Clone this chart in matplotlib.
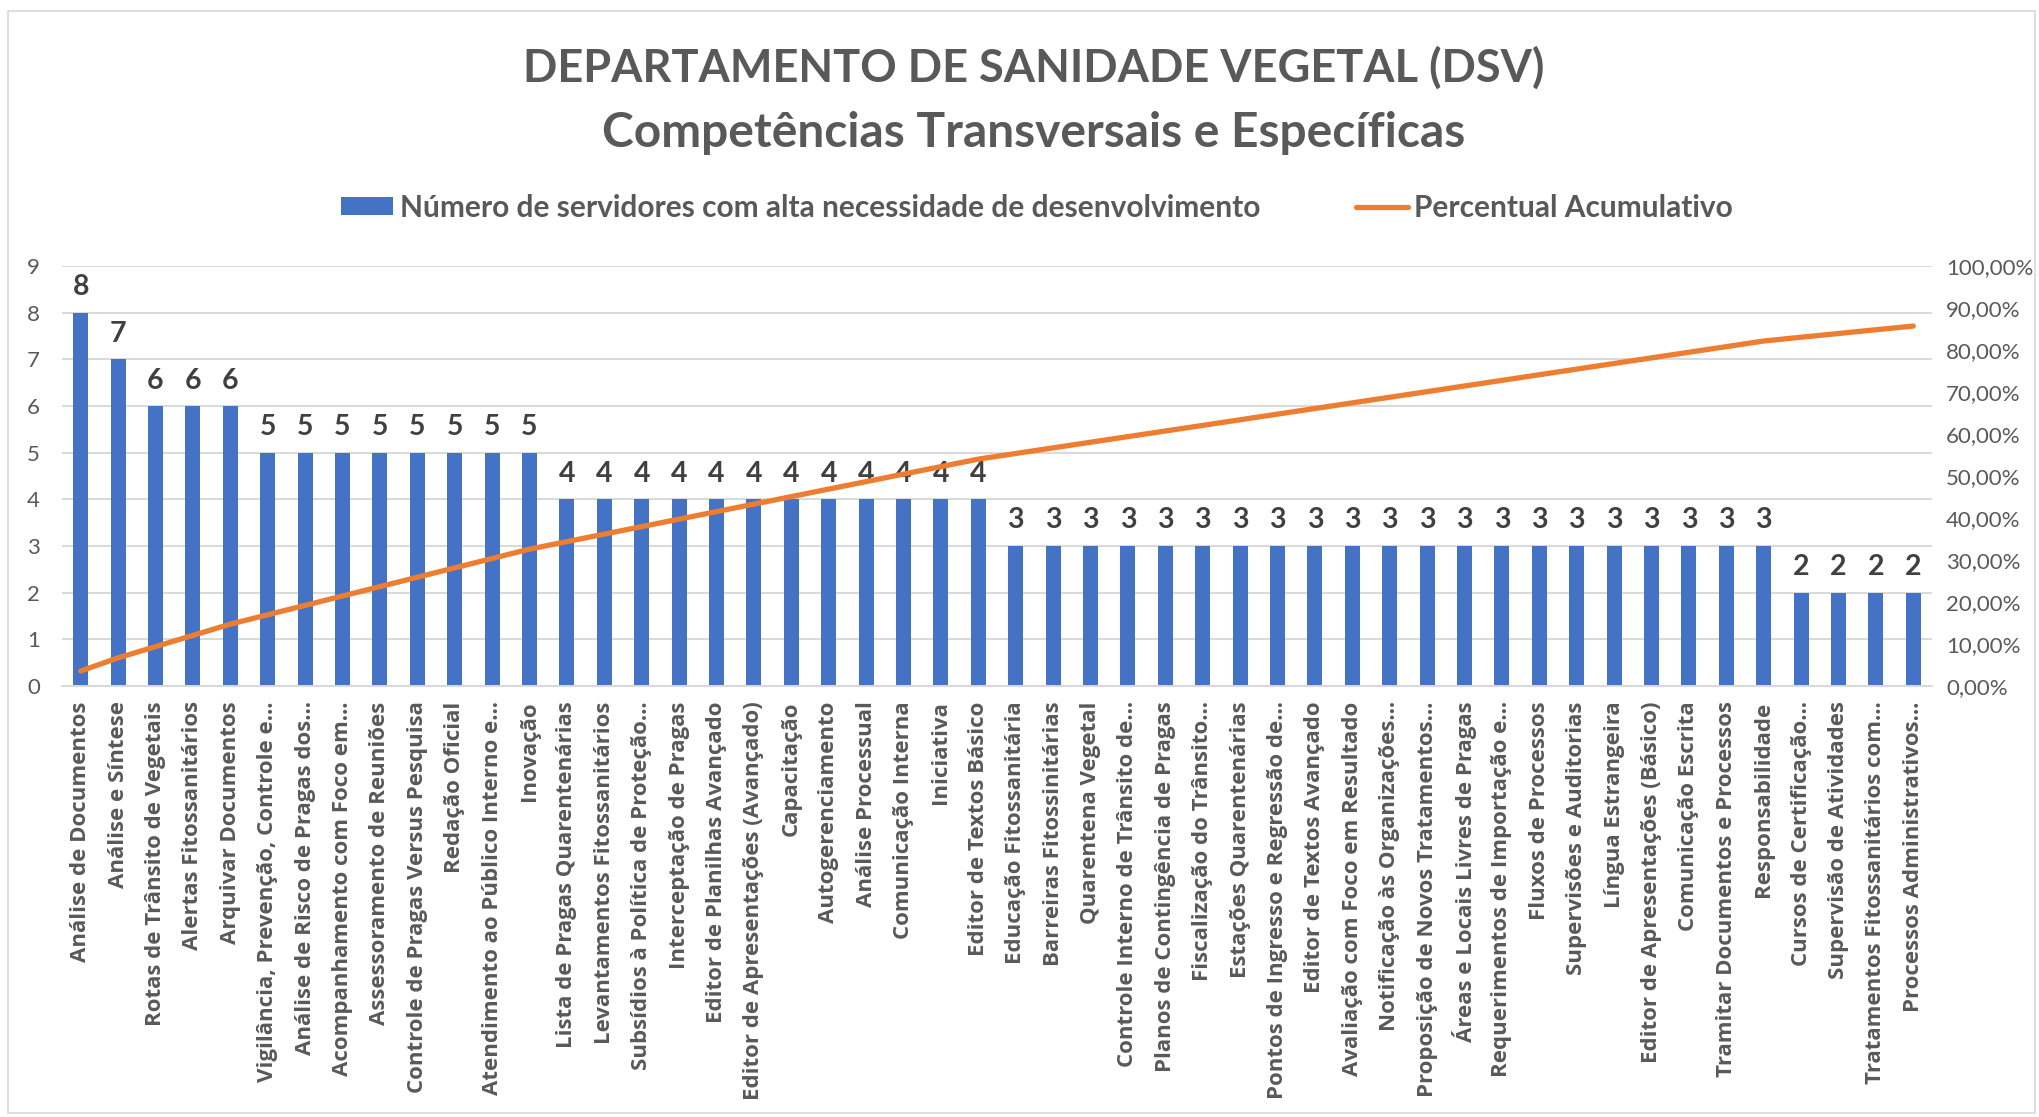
import numpy as np
import matplotlib
matplotlib.use("Agg")
import matplotlib.pyplot as plt
from matplotlib.patches import Patch, Rectangle
from matplotlib.lines import Line2D

# competências (eixo x), já ordenadas como no gráfico
competencias = [
    "Análise de Documentos", "Análise e Síntese", "Rotas de Trânsito de Vegetais",
    "Alertas Fitossanitários", "Arquivar Documentos", "Vigilância, Prevenção, Controle e…",
    "Análise de Risco de Pragas dos…", "Acompanhamento com Foco em…", "Assessoramento de Reuniões",
    "Controle de Pragas Versus Pesquisa", "Redação Oficial", "Atendimento ao Público Interno e…",
    "Inovação", "Lista de Pragas Quarentenárias", "Levantamentos Fitossanitários",
    "Subsídios à Política de Proteção…", "Interceptação de Pragas", "Editor de Planilhas Avançado",
    "Editor de Apresentações (Avançado)", "Capacitação", "Autogerenciamento",
    "Análise Processual", "Comunicação Interna", "Iniciativa", "Editor de Textos Básico",
    "Educação Fitossanitária", "Barreiras Fitossinitárias", "Quarentena Vegetal",
    "Controle Interno de Trânsito de…", "Planos de Contingência de Pragas", "Fiscalização do Trânsito…",
    "Estações Quarentenárias", "Pontos de Ingresso e Regressão de…", "Editor de Textos Avançado",
    "Avaliação com Foco em Resultado", "Notificação às Organizações…", "Proposição de Novos Tratamentos…",
    "Áreas e Locais Livres de Pragas", "Requerimentos de Importação e…", "Fluxos de Processos",
    "Supervisões e Auditorias", "Língua Estrangeira", "Editor de Apresentações (Básico)",
    "Comunicação Escrita", "Tramitar Documentos e Processos", "Responsabilidade",
    "Cursos de Certificação…", "Supervisão de Atividades", "Tratamentos Fitossanitários com…",
    "Processos Administrativos…",
]

# número de servidores com alta necessidade de desenvolvimento
servidores = [8, 7, 6, 6, 6, 5, 5, 5, 5, 5, 5, 5, 5,
              4, 4, 4, 4, 4, 4, 4, 4, 4, 4, 4, 4,
              3, 3, 3, 3, 3, 3, 3, 3, 3, 3, 3, 3, 3, 3, 3, 3, 3, 3, 3, 3, 3,
              2, 2, 2, 2]

percentual = [3.57, 6.70, 9.38, 12.05, 14.73, 16.96, 19.20, 21.43, 23.66, 25.89,
              28.13, 30.36, 32.59, 34.38, 36.16, 37.95, 39.73, 41.52, 43.30, 45.09,
              46.88, 48.66, 50.45, 52.23, 54.02, 55.36, 56.70, 58.04, 59.38, 60.71,
              62.05, 63.39, 64.73, 66.07, 67.41, 68.75, 70.09, 71.43, 72.77, 74.11,
              75.45, 76.79, 78.13, 79.46, 80.80, 82.14, 83.04, 83.93, 84.82, 85.71]

titulo = "DEPARTAMENTO DE SANIDADE VEGETAL (DSV)"
subtitulo = "Competências Transversais e Específicas"
leg_barras = "Número de servidores com alta necessidade de desenvolvimento"
leg_linha = "Percentual Acumulativo"

AZUL = "#4472C4"
LARANJA = "#ED7D31"
CINZA = "#595959"
GRADE = "#D9D9D9"

W, H = 2039, 1117
fig = plt.figure(figsize=(W / 100, H / 100), dpi=100)
fig.patch.set_facecolor("white")

# moldura do gráfico
fig.patches.append(Rectangle((8 / W, 4 / H), (W - 12) / W, (H - 15) / H,
                             transform=fig.transFigure, fill=False,
                             edgecolor=GRADE, lw=1.2))

ax = fig.add_axes([62 / W, 1 - 686 / H, (1932 - 62) / W, (686 - 266) / H])
x = np.arange(len(competencias))

barras = ax.bar(x, servidores, width=0.4, color=AZUL, zorder=2)
ax.bar_label(barras, padding=9, fontsize=20.5, fontweight="bold",
             color="#404040", family="Lato")

ax.set_xlim(-0.5, len(competencias) - 0.5)
ax.set_ylim(0, 9)
ax.set_yticks(range(0, 10))
ax.yaxis.grid(True, color=GRADE, lw=1.4)
ax.set_axisbelow(True)
for s in ["top", "right", "left"]:
    ax.spines[s].set_visible(False)
ax.spines["bottom"].set_color(GRADE)
ax.spines["bottom"].set_linewidth(1.4)
ax.tick_params(axis="y", length=0, pad=16, labelsize=16, labelcolor=CINZA)
ax.tick_params(axis="x", length=0, pad=11)
for t in ax.get_yticklabels():
    t.set_family("Lato")

ax.set_xticks(x)
ax.set_xticklabels(competencias, rotation=90, fontsize=16, color=CINZA,
                   family="Open Sans", fontweight="bold")

ax2 = ax.twinx()
ax2.plot(x, np.array(percentual) / 100, color=LARANJA, lw=3.8,
         solid_capstyle="round", solid_joinstyle="round")
ax2.set_ylim(0, 1)
ax2.set_yticks(np.arange(0, 1.001, 0.1))
ax2.set_yticklabels([f"{v * 100:.2f}%".replace(".", ",") for v in np.arange(0, 1.001, 0.1)],
                    family="Lato")
ax2.tick_params(axis="y", length=0, pad=10, labelsize=16, labelcolor=CINZA)
for s in ax2.spines.values():
    s.set_visible(False)

fig.text(0.507, 1 - 68 / H, titulo, ha="center", va="center", fontsize=32.5,
         fontweight="bold", color=CINZA, family="Lato")
fig.text(0.507, 1 - 133 / H, subtitulo, ha="center", va="center", fontsize=34.5,
         fontweight="bold", color=CINZA, family="Lato")

handles = [Patch(facecolor=AZUL, edgecolor="none"),
           Line2D([0], [0], color=LARANJA, lw=3.8, solid_capstyle="round")]
fig.legend(handles, [leg_barras, leg_linha], loc="center",
           bbox_to_anchor=(1037 / W, 1 - 208 / H), ncol=2, frameon=False,
           prop={"family": "Lato", "weight": "bold", "size": 21.5},
           labelcolor=CINZA, handlelength=1.75, handleheight=0.55,
           handletextpad=0.22, columnspacing=3.2)

fig.savefig("out.png", dpi=100)
